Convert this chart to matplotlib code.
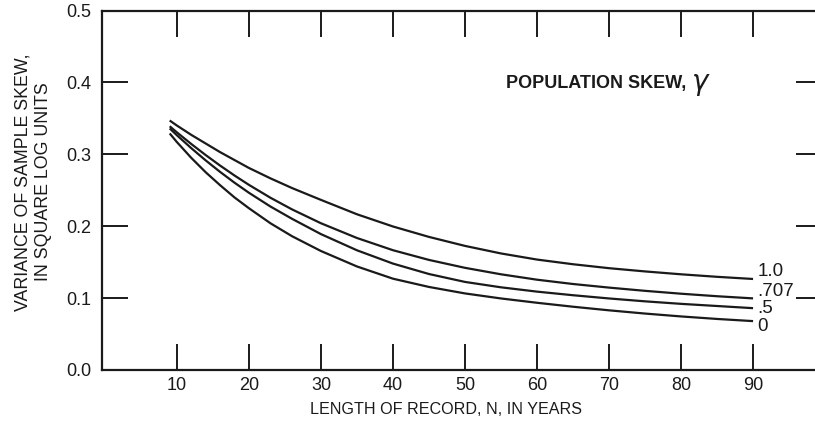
import matplotlib
matplotlib.use('Agg')
import matplotlib.pyplot as plt

plt.rcParams['font.family'] = ['Liberation Sans', 'DejaVu Sans']

# record length N (years) and variance of sample skew for each population skew
record_length = [9, 10, 12, 14, 16, 18, 20, 23, 26, 30, 35, 40, 45, 50, 55, 60, 65, 70, 75, 80, 85, 90]
var_skew_10 = [0.347, 0.340, 0.327, 0.315, 0.303, 0.292, 0.281, 0.2665, 0.253, 0.2366, 0.2166,
               0.1996, 0.1851, 0.1726, 0.1621, 0.1536, 0.1471, 0.1416, 0.1371, 0.1331, 0.1296, 0.1266]
var_skew_0707 = [0.339, 0.3305, 0.3143, 0.2989, 0.2843, 0.2705, 0.2575, 0.2395, 0.2233, 0.2041, 0.1836,
                 0.1666, 0.1531, 0.1421, 0.1331, 0.1256, 0.1196, 0.1146, 0.1101, 0.1061, 0.1026, 0.0996]
var_skew_05 = [0.336, 0.3265, 0.3085, 0.2915, 0.2755, 0.2605, 0.2465, 0.2273, 0.2102, 0.189, 0.1665,
               0.148, 0.1335, 0.1225, 0.115, 0.109, 0.104, 0.0995, 0.0955, 0.092, 0.089, 0.086]
var_skew_00 = [0.329, 0.317, 0.295, 0.275, 0.257, 0.240, 0.225, 0.204, 0.186, 0.1655, 0.144,
               0.127, 0.1155, 0.1065, 0.0995, 0.0935, 0.088, 0.083, 0.0785, 0.0745, 0.071, 0.068]

curve_labels = ['1.0', '.707', '.5', '0']
label_y = [0.137, 0.109, 0.086, 0.060]

x_ticks = [10, 20, 30, 40, 50, 60, 70, 80, 90]
y_ticks = [0.0, 0.1, 0.2, 0.3, 0.4, 0.5]
right_ticks = [0.1, 0.2, 0.3, 0.4]

ink = '#1a1a1a'

fig = plt.figure(figsize=(8.15, 4.24), dpi=100)
ax = fig.add_axes([102 / 815, 1 - 370 / 424, 713 / 815, (370 - 10.5) / 424])

for series in [var_skew_10, var_skew_0707, var_skew_05, var_skew_00]:
    ax.plot(record_length, series, color=ink, lw=1.6, solid_capstyle='butt')

for lab, yy in zip(curve_labels, label_y):
    ax.text(90.6, yy, lab, fontsize=13.5, color=ink, ha='left', va='center')

ax.text(55.7, 0.399, 'POPULATION SKEW,', fontsize=13, fontweight='bold',
        color=ink, ha='left', va='center')
ax.text(81.4, 0.396, r'$\gamma$', fontsize=20, color=ink, ha='left', va='center')

ax.set_xlim(-0.4, 98.6)
ax.set_ylim(0, 0.5)
ax.set_xticks(x_ticks)
ax.set_yticks(y_ticks)
ax.set_yticklabels(['%.1f' % v for v in y_ticks])

ax.tick_params(axis='both', direction='in', length=19, width=1.4, color=ink,
               labelsize=13, labelcolor=ink, top=True)
ax.tick_params(axis='x', pad=5)
ax.tick_params(axis='y', pad=8)

sec = ax.secondary_yaxis('right')
sec.set_yticks(right_ticks)
sec.tick_params(direction='in', length=14, width=1.4, color=ink, labelright=False)
sec.spines['right'].set_visible(False)

ax.spines['right'].set_visible(False)
for s in ['left', 'bottom', 'top']:
    ax.spines[s].set_linewidth(1.6)
    ax.spines[s].set_color(ink)

ax.set_xlabel('LENGTH OF RECORD, N, IN YEARS', fontsize=11.6, color=ink)
ax.xaxis.set_label_coords(0.482, -0.088)
ax.set_ylabel('VARIANCE OF SAMPLE SKEW,\nIN SQUARE LOG UNITS', fontsize=12.8,
              color=ink, linespacing=1.25)
ax.yaxis.set_label_coords(-0.070, 0.523)

fig.savefig('out.png', dpi=100)
